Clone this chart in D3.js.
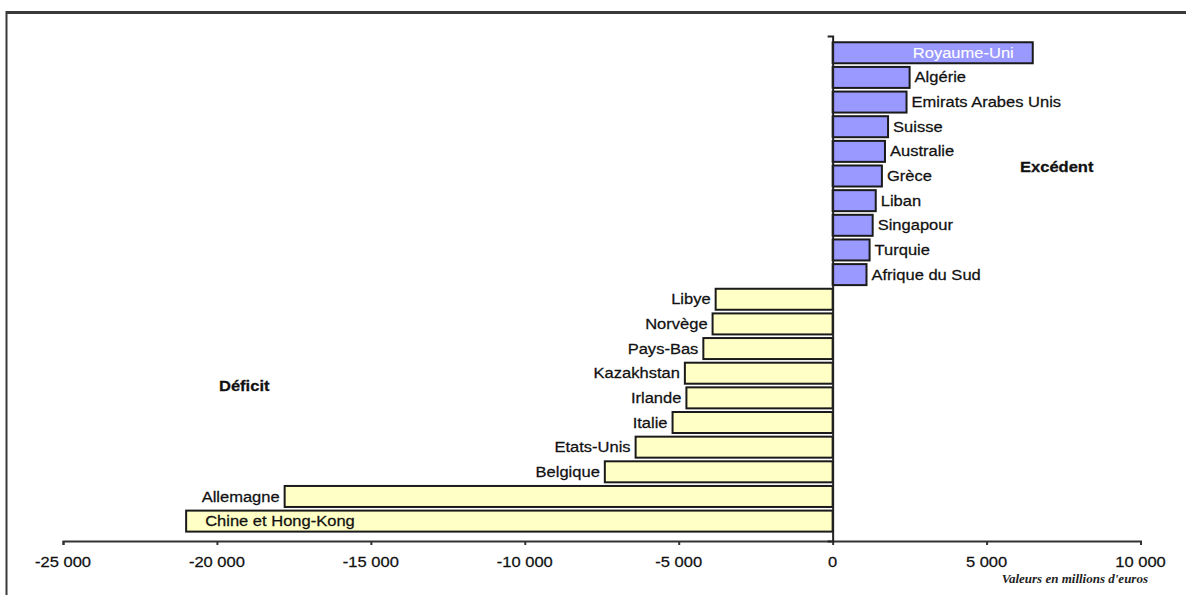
<!DOCTYPE html>
<html>
<head>
<meta charset="utf-8">
<script src="https://cdn.jsdelivr.net/npm/d3@7"></script>
<style>
  html, body { margin: 0; padding: 0; background: #fff; }
  svg { display: block; }
</style>
</head>
<body>
<svg id="chart" width="1186" height="595"></svg>
<script>
// Solde commercial par pays partenaire (millions d'euros)
const countries = [
  "Royaume-Uni", "Algérie", "Emirats Arabes Unis", "Suisse", "Australie",
  "Grèce", "Liban", "Singapour", "Turquie", "Afrique du Sud",
  "Libye", "Norvège", "Pays-Bas", "Kazakhstan", "Irlande",
  "Italie", "Etats-Unis", "Belgique", "Allemagne", "Chine et Hong-Kong"
];
const balances = [
  6500, 2500, 2400, 1800, 1700,
  1600, 1400, 1300, 1200, 1100,
  -3800, -3900, -4200, -4800, -4750,
  -5200, -6400, -7400, -17800, -21000
];
const labelsInsideBar = ["Royaume-Uni", "Chine et Hong-Kong"];
const xTicks = [-25000, -20000, -15000, -10000, -5000, 0, 5000, 10000];
const xDomain = [-25000, 10000];
const groupLabels = ["Excédent", "Déficit"];
const unitNote = "Valeurs en millions d'euros";

const svg = d3.select("#chart");
const SX = 1.14;               // horizontal stretch of the typeface
const FONT = "'Liberation Sans', Arial, sans-serif";

const x = d3.scaleLinear().domain(xDomain).range([63, 1140.5]);
const y = d3.scaleBand().domain(countries)
  .range([36, 541]).paddingInner(0.148).paddingOuter(0.3175).align(0.4);

const fr = d3.formatLocale({ decimal: ",", thousands: " ", grouping: [3], currency: ["", " €"], minus: "-" });
const fmt = fr.format(",d");

// stretched text helper
function label(g, tx, ty, txt, anchor) {
  return g.append("text")
    .attr("transform", `translate(${tx},${ty}) scale(${SX},1)`)
    .attr("text-anchor", anchor)
    .attr("dy", "0.35em")
    .attr("font-family", FONT)
    .attr("font-size", 14.5)
    .attr("fill", "#111")
    .attr("stroke", "#111")
    .attr("stroke-width", 0.25)
    .text(txt);
}

// frame
svg.append("line").attr("x1", 6).attr("x2", 1186).attr("y1", 12.5).attr("y2", 12.5)
  .attr("stroke", "#3a3a3a").attr("stroke-width", 3);
svg.append("line").attr("x1", 6.5).attr("x2", 6.5).attr("y1", 11).attr("y2", 595)
  .attr("stroke", "#3a3a3a").attr("stroke-width", 2);

// bars
const rows = countries.map((c, i) => ({ c, v: balances[i] }));
const bars = svg.append("g");
bars.selectAll("rect").data(rows).join("rect")
  .attr("x", d => x(Math.min(0, d.v)))
  .attr("y", d => y(d.c))
  .attr("width", d => Math.abs(x(d.v) - x(0)))
  .attr("height", y.bandwidth())
  .attr("fill", d => d.v >= 0 ? "#9999ff" : "#ffffc6")
  .attr("stroke", "#1a1a1a")
  .attr("stroke-width", 2);

// category labels
const lab = svg.append("g");
rows.forEach(d => {
  const cy = y(d.c) + y.bandwidth() / 2;
  const inside = labelsInsideBar.includes(d.c);
  let t;
  if (d.v >= 0) {
    t = inside ? label(lab, x(d.v) - 19, cy, d.c, "end") : label(lab, x(d.v) + 5, cy, d.c, "start");
  } else {
    t = inside ? label(lab, x(d.v) + 19, cy, d.c, "start") : label(lab, x(d.v) - 5, cy, d.c, "end");
  }
  if (inside && d.v >= 0) t.attr("fill", "#fff").attr("stroke", "#fff").attr("stroke-width", 0.1);
});

// x axis
const xAxis = svg.append("g").attr("transform", "translate(0,541)")
  .call(d3.axisBottom(x).tickValues(xTicks).tickFormat(fmt).tickSize(4).tickSizeOuter(4).tickPadding(0));
xAxis.select(".domain").attr("stroke", "#333").attr("stroke-width", 2);
xAxis.selectAll(".tick line").attr("stroke", "#333").attr("stroke-width", 2);
xAxis.selectAll(".tick text").remove();
xTicks.forEach(v => label(xAxis, x(v), 21, fmt(v), "middle"));

// y axis line at zero
const yLine = d3.scaleLinear().domain([0, 1]).range([541, 36]);
const yAxis = svg.append("g").attr("transform", `translate(${x(0)},0)`)
  .call(d3.axisLeft(yLine).tickValues([]).tickSizeOuter(5));
yAxis.select(".domain").attr("stroke", "#222").attr("stroke-width", 2);

// group labels
label(svg, 1020, 167, groupLabels[0], "start").attr("font-weight", "bold");
label(svg, 219, 386, groupLabels[1], "start").attr("font-weight", "bold");

// unit note
svg.append("text")
  .attr("x", 1148).attr("y", 583)
  .attr("text-anchor", "end")
  .attr("font-family", "'Liberation Serif', 'Times New Roman', serif")
  .attr("font-style", "italic").attr("font-weight", "bold")
  .attr("font-size", 13)
  .attr("fill", "#222")
  .text(unitNote);
</script>
</body>
</html>
